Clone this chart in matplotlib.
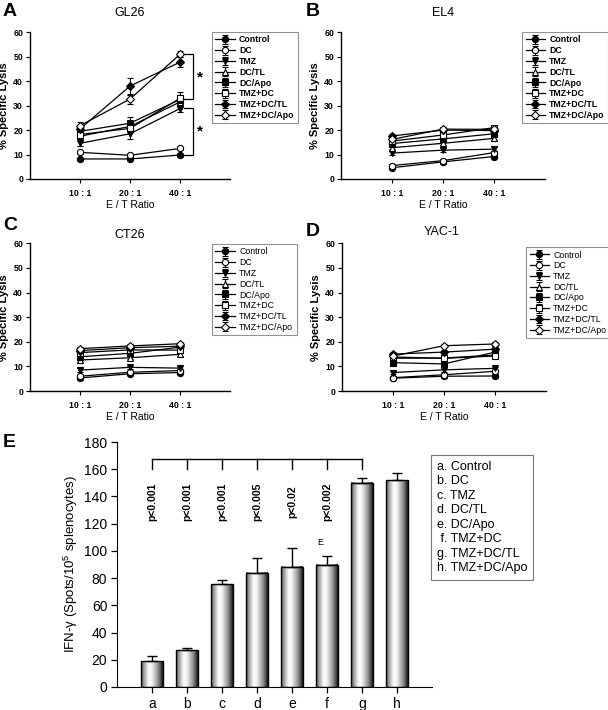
import numpy as np
import matplotlib.pyplot as plt
from matplotlib.colors import LinearSegmentedColormap
from matplotlib.patches import Rectangle

plt.rcParams['font.family'] = ['Liberation Sans', 'DejaVu Sans']

W, H = 608, 710

groups = ['Control', 'DC', 'TMZ', 'DC/TL', 'DC/Apo', 'TMZ+DC', 'TMZ+DC/TL', 'TMZ+DC/Apo']
ratios = ['10 : 1', '20 : 1', '40 : 1']

# % specific lysis per target, rows follow "groups"
gl26 = [[8.2, 8.2, 9.8], [10.9, 9.7, 12.5], [14.6, 18.5, 28.8], [17.5, 21.5, 31.5],
        [19.5, 22.8, 32.5], [18.2, 20.7, 33.0], [20.5, 38.0, 47.8], [21.8, 32.7, 51.0]]
gl26_err = [[0.5, 0.5, 0.6], [0.6, 0.6, 0.6], [1.2, 2.0, 1.5], [1.0, 1.5, 1.5],
            [1.2, 2.5, 2.0], [1.2, 1.5, 2.5], [1.5, 3.5, 2.0], [1.5, 2.0, 1.3]]
el4 = [[4.6, 7.0, 9.2], [5.5, 7.5, 10.8], [10.6, 11.8, 12.2], [12.8, 14.6, 16.6],
       [14.5, 16.4, 18.5], [15.5, 18.0, 21.0], [17.6, 20.0, 19.8], [16.2, 20.4, 20.3]]
ct26 = [[5.3, 7.0, 7.5], [6.0, 7.6, 8.3], [8.5, 9.6, 9.3], [12.6, 13.5, 14.9],
        [13.9, 15.3, 17.8], [15.6, 16.7, 16.6], [16.4, 17.6, 18.2], [17.2, 18.3, 19.2]]
yac1 = [[5.2, 6.0, 6.1], [5.4, 6.6, 8.0], [7.5, 8.6, 9.2], [13.3, 13.4, 14.6],
        [11.5, 11.0, 15.8], [13.8, 13.3, 14.2], [15.0, 15.8, 17.0], [14.2, 18.4, 19.1]]
small_err = 0.7

# IFN-gamma ELISPOT
bar_labels = ['a', 'b', 'c', 'd', 'e', 'f', 'g', 'h']
spots = [19, 27, 75.5, 84, 88.5, 90, 150, 152]
spots_err = [3.5, 1.8, 3.2, 10.5, 13.5, 6.5, 3.5, 5.5]
pvals = ['p<0.001', 'p<0.001', 'p<0.001', 'p<0.005', 'p<0.02', 'p<0.002']
legend_e = ['a. Control', 'b. DC', 'c. TMZ', 'd. DC/TL', 'e. DC/Apo',
            ' f. TMZ+DC', 'g. TMZ+DC/TL', 'h. TMZ+DC/Apo']

markers = ['o', 'o', 'v', '^', 's', 's', 'D', 'D']
filled = [True, False, True, False, True, False, True, False]
msizes = [4.5, 4.5, 4.5, 4.5, 4, 4, 3.8, 3.8]


def frac(x0, y0, x1, y1):
    # pixel box (top-left origin) -> figure rect
    return [x0 / W, 1 - y1 / H, (x1 - x0) / W, (y1 - y0) / H]


fig = plt.figure(figsize=(W / 100, H / 100), dpi=100)


def lysis_panel(rect, vals, errs, title, tpos, letter, lpos, xlab_y, leg_xy, leg_bold):
    ax = fig.add_axes(rect)
    x = np.arange(1, 4)
    for i, g in enumerate(groups):
        e = errs[i] if errs is not None else [small_err] * 3
        ax.errorbar(x, vals[i], yerr=e, color='black', lw=0.9, elinewidth=0.8,
                    capsize=2, capthick=0.8, marker=markers[i], ms=msizes[i],
                    mfc='black' if filled[i] else 'white', mec='black', mew=0.8,
                    label=g)
    ax.set_xlim(0, 4)
    ax.set_ylim(0, 60)
    ax.set_yticks(range(0, 61, 10))
    ax.set_xticks(x)
    ax.set_xticklabels(ratios)
    for s in ['top', 'right']:
        ax.spines[s].set_visible(False)
    for s in ['left', 'bottom']:
        ax.spines[s].set_linewidth(1.0)
    ax.tick_params(length=3, width=0.8, labelsize=6.3, pad=2)
    ax.tick_params(axis='x', pad=4)
    for t in ax.get_xticklabels() + ax.get_yticklabels():
        t.set_fontweight('bold')
    ax.set_ylabel('% Specific Lysis', fontsize=8, fontweight='bold', labelpad=3)
    fig.text(tpos[0] / W, 1 - tpos[1] / H, title, fontsize=9, ha='center', va='center')
    fig.text(lpos[0] / W, 1 - lpos[1] / H, letter, fontsize=14, fontweight='bold',
             ha='left', va='center')
    fig.text((rect[0] + rect[2] / 2), 1 - xlab_y / H, 'E / T Ratio', fontsize=7.5,
             ha='center', va='center')
    leg = ax.legend(loc='upper left', bbox_to_anchor=(leg_xy[0] / W, 1 - leg_xy[1] / H),
                    bbox_transform=fig.transFigure, borderaxespad=0, fancybox=False,
                    edgecolor='#777777', handlelength=2.2,
                    handletextpad=0.5, labelspacing=0.2, borderpad=0.4,
                    prop={'weight': 'bold' if leg_bold else 'normal', 'size': 6.3})
    leg.get_frame().set_linewidth(0.8)
    return ax


axA = lysis_panel(frac(30, 32.3, 230, 179), gl26, gl26_err, 'GL26', (130, 13), 'A', (3, 12),
                  205, (212, 32), True)
lysis_panel(frac(341, 32.3, 545, 179), el4, None, 'EL4', (443, 13), 'B', (306, 12),
            205, (522, 32), True)
lysis_panel(frac(30, 243.3, 230, 391), ct26, None, 'CT26', (130, 235), 'C', (3, 225),
            417, (212, 244), False)
lysis_panel(frac(342, 243.3, 546, 391), yac1, None, 'YAC-1', (442, 232), 'D', (306, 232),
            417, (526, 247), False)

# significance brackets on GL26
for top, bot, ast in [(51.0, 32.8, 41.5), (29.0, 9.8, 19.5)]:
    axA.plot([3.08, 3.25, 3.25, 3.08], [top, top, bot, bot], color='black', lw=0.9,
             clip_on=False)
    axA.text(3.39, ast, '*', fontsize=11, fontweight='bold', ha='center', va='center')

# ---- panel E ----
axE = fig.add_axes(frac(117, 442, 432, 687))
cyl = LinearSegmentedColormap.from_list('cyl', [(0, '#555555'), (0.12, '#9a9a9a'),
                                                (0.35, '#ffffff'), (0.5, '#f2f2f2'),
                                                (0.8, '#8a8a8a'), (1, '#1a1a1a')])
grad = np.linspace(0, 1, 64).reshape(1, -1)
bw = 0.62
xb = np.arange(1, 9)
for xi, v in zip(xb, spots):
    axE.imshow(grad, cmap=cyl, aspect='auto', extent=[xi - bw / 2, xi + bw / 2, 0, v],
               zorder=2, interpolation='bicubic')
    axE.add_patch(Rectangle((xi - bw / 2, 0), bw, v, fill=False, ec='black', lw=1.0,
                            zorder=3))
axE.errorbar(xb, spots, yerr=[np.zeros(8), spots_err], fmt='none', ecolor='black',
             elinewidth=1.0, capsize=3.5, capthick=1.0, zorder=4)
axE.set_xlim(0, 9)
axE.set_ylim(0, 180)
axE.set_yticks(range(0, 181, 20))
axE.set_xticks(xb)
axE.set_xticklabels(bar_labels)
for s in ['top', 'right']:
    axE.spines[s].set_visible(False)
axE.tick_params(length=4, width=0.9, labelsize=10, pad=3)
axE.set_ylabel('IFN-\u03b3 (Spots/10$\\mathregular{^5}$ splenocytes)', fontsize=9.5,
               labelpad=3)

# bracket with p values
axE.plot([1, 7], [167.5, 167.5], color='black', lw=1.0, clip_on=False)
for xi in range(1, 8):
    axE.plot([xi, xi], [167.5, 160], color='black', lw=1.0, clip_on=False)
for xi, p in zip(range(1, 7), pvals):
    axE.text(xi, 136, p, rotation=90, fontsize=7.5, fontweight='bold', ha='center',
             va='center')
axE.text(5.8, 106, 'E', fontsize=6.5, ha='center', va='center')

fig.text(3 / W, 1 - 443 / H, 'E', fontsize=14, fontweight='bold', ha='left', va='center')
fig.text(437 / W, 1 - 461 / H, '\n'.join(legend_e), fontsize=9, ha='left', va='top',
         linespacing=1.27,
         bbox=dict(boxstyle='square,pad=0.45', fc='white', ec='#777777', lw=0.8))

fig.savefig('out.png', dpi=100)
